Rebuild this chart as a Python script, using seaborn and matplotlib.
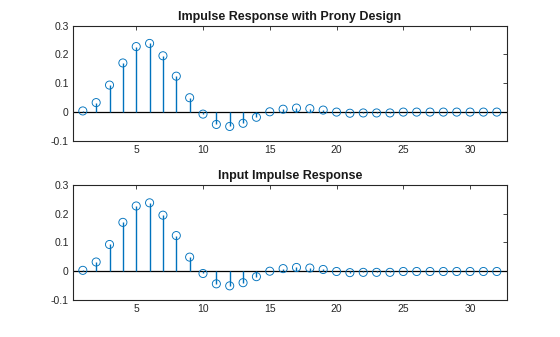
import numpy as np
import pandas as pd
import matplotlib
matplotlib.use("Agg")
import matplotlib.pyplot as plt
import seaborn as sns

n = list(range(1, 33))
prony = [0.003, 0.032, 0.093, 0.170, 0.227, 0.238, 0.195, 0.124, 0.049, -0.008,
         -0.044, -0.051, -0.040, -0.019, 0.000, 0.009, 0.013, 0.011, 0.006, -0.001,
         -0.005, -0.004, -0.004, -0.004, -0.001, -0.001, -0.001, -0.001, -0.001, -0.001,
         -0.001, -0.001]
inputr = [0.003, 0.032, 0.093, 0.170, 0.227, 0.238, 0.195, 0.124, 0.049, -0.008,
          -0.044, -0.051, -0.040, -0.019, 0.000, 0.009, 0.013, 0.011, 0.006, -0.001,
          -0.005, -0.004, -0.004, -0.004, -0.001, -0.001, -0.001, -0.001, -0.001, -0.001,
          -0.001, -0.001]
titles = ["Impulse Response with Prony Design", "Input Impulse Response"]
yticks = [-0.1, 0, 0.1, 0.2, 0.3]
ytick_labels = ["-0.1", "0", "0.1", "0.2", "0.3"]
xticks = [5, 10, 15, 20, 25, 30]

sns.set_style("white")
plt.rcParams['font.family'] = ['Liberation Sans', 'DejaVu Sans']

fig = plt.figure(figsize=(5.6, 3.37), dpi=100)
positions = [[0.13, 0.583, 0.775, 0.341], [0.13, 0.11, 0.775, 0.341]]
blue = "#0072BD"
for pos, vals, title in zip(positions, [prony, inputr], titles):
    ax = fig.add_axes(pos)
    df = pd.DataFrame({"n": n, "h": vals})
    ax.axhline(0, color="black", lw=0.9, zorder=1)
    ax.vlines(df["n"], 0, df["h"], color=blue, lw=1.0, zorder=2)
    sns.scatterplot(data=df, x="n", y="h", ax=ax, marker="o", s=34,
                    facecolors="none", edgecolor=blue, linewidth=0.65, zorder=3)
    ax.set_xlim(0.25, 32.75)
    ax.set_ylim(-0.1, 0.3)
    ax.set_xticks(xticks)
    ax.set_xticklabels([str(t) for t in xticks])
    ax.set_yticks(yticks)
    ax.set_yticklabels(ytick_labels)
    ax.set_xlabel("")
    ax.set_ylabel("")
    ax.tick_params(direction="in", length=3, width=0.6, labelsize=7.5,
                   top=True, right=True, colors="#262626", pad=3)
    for sp in ax.spines.values():
        sp.set_visible(True)
        sp.set_color("#262626")
        sp.set_linewidth(0.8)
    ax.set_title(title, fontsize=9, fontweight="bold", pad=4, color="#1a1a1a")

fig.savefig("out.png", dpi=100)
